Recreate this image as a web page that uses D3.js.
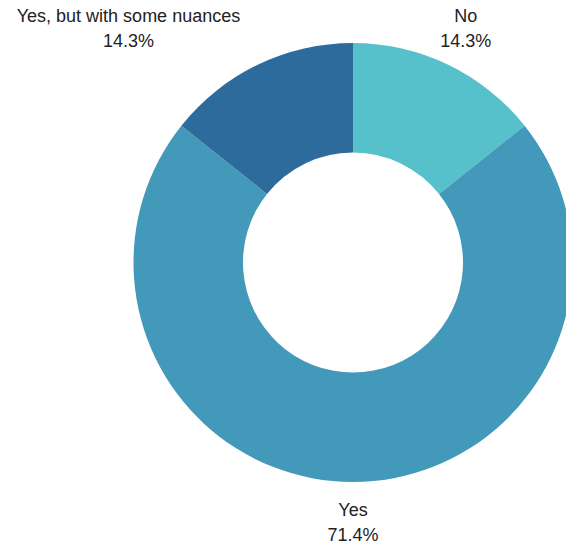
<!DOCTYPE html>
<html>
<head>
<meta charset="utf-8">
<script src="https://cdn.jsdelivr.net/npm/d3@7"></script>
<style>
  body { margin: 0; background: #fff; }
  text { font-family: "Liberation Sans", Arial, sans-serif; font-size: 18px; fill: #222; }
</style>
</head>
<body>
<svg id="chart" width="566" height="546"></svg>
<script>
var categories = ["No", "Yes", "Yes, but with some nuances"],
    counts = [1, 5, 1],
    percentLabels = ["14.3%", "71.4%", "14.3%"],
    sliceColours = ["#57c1cb", "#4299ba", "#2e6b9d"],

    width = 566,
    height = 546,
    cx = 353,
    cy = 262.5,
    outerRadius = 219.5,
    innerRadius = 110,
    labelRadius = 260,
    lineHeight = 25;

var svg = d3.select("#chart"),
    g = svg.append("g").attr("transform", "translate(" + cx + "," + cy + ")");

var pie = d3.pie().sort(null).value(function(d) { return d.count; }),
    arc = d3.arc().innerRadius(innerRadius).outerRadius(outerRadius),
    labelArc = d3.arc().innerRadius(labelRadius).outerRadius(labelRadius),
    colour = d3.scaleOrdinal().domain(categories).range(sliceColours);

var data = categories.map(function(c, i) {
    return { name: c, count: counts[i], pct: percentLabels[i] };
});

var arcs = pie(data);

g.selectAll("path.slice")
    .data(arcs)
    .enter().append("path")
    .attr("class", "slice")
    .attr("d", arc)
    .attr("fill", function(d) { return colour(d.data.name); });

var labels = g.selectAll("g.label")
    .data(arcs)
    .enter().append("g")
    .attr("class", "label");

labels.each(function(d) {
    var el = d3.select(this),
        c = labelArc.centroid(d),
        mid = (d.startAngle + d.endAngle) / 2;

    var t1 = el.append("text").attr("text-anchor", "middle").text(d.data.name),
        t2 = el.append("text").attr("text-anchor", "middle").text(d.data.pct);

    var w = Math.max(t1.node().getComputedTextLength(), t2.node().getComputedTextLength()),
        x = c[0];

    // left-side labels hang off the centroid towards the outside
    if (mid > Math.PI * 1.05) {
        x = c[0] - w / 2;
    }

    t1.attr("x", x).attr("y", c[1] - lineHeight / 2 + 6);
    t2.attr("x", x).attr("y", c[1] + lineHeight / 2 + 6);
});
</script>
</body>
</html>
